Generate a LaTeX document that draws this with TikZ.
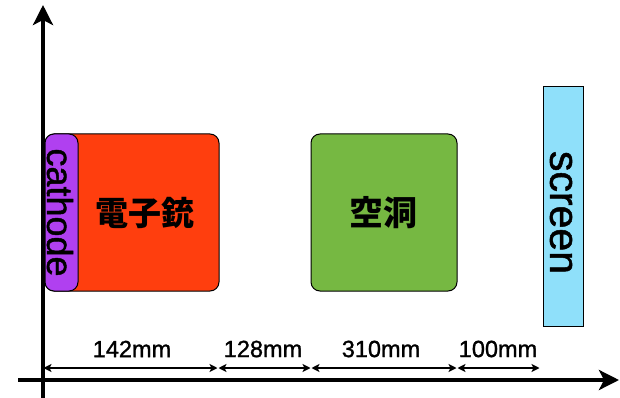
\documentclass[tikz,border=0pt]{standalone}
\usepackage{fontspec}
\setmainfont{Liberation Sans}
\newfontfamily\latb[FakeBold=1.2]{Liberation Sans}
\newfontfamily\jp{Noto Sans CJK JP}
\usetikzlibrary{arrows.meta}
\definecolor{gunred}{RGB}{255,62,14}
\definecolor{cathpurple}{RGB}{176,64,240}
\definecolor{cavgreen}{RGB}{118,184,66}
\definecolor{scrblue}{RGB}{143,224,250}
\begin{document}
\begin{tikzpicture}[x=1pt,y=-1pt,
  box/.style={draw=black,line width=1pt,rounded corners=9pt,inner sep=0pt},
  axis/.style={line width=4pt,-{Stealth[length=20pt,width=20pt,inset=5pt]}},
  dim/.style={line width=1.6pt,{Stealth[length=8pt,width=8pt,inset=2pt]}-{Stealth[length=8pt,width=8pt,inset=2pt]},shorten <=0.5pt,shorten >=0.5pt},
  dimlabel/.style={font=\latb\fontsize{23.5}{25}\selectfont,inner sep=0pt}
]
\useasboundingbox (0,0) rectangle (620,398);
% axes
\coordinate (ybot) at (43,398);
\coordinate (ytop) at (43,5);
\coordinate (xl) at (18,380);
\coordinate (xr) at (619,380);
\draw[axis] (ybot) -- (ytop);
\draw[axis] (xl) -- (xr);
% boxes
\node[box,fill=gunred,minimum width=174pt,minimum height=157pt] (gun) at (132,212.5) {};
\node[font=\jp\bfseries\fontsize{33}{36}\selectfont] (gunlabel) at (145,213) {電子銃};
\node[box,fill=cathpurple,minimum width=33pt,minimum height=157pt] (cathode) at (61.5,212.5) {};
\node[rotate=-90,font=\latb\fontsize{36}{40}\selectfont,inner sep=0pt] (cathlabel) at (60,212.5) {cathode};
\node[box,fill=cavgreen,minimum width=146pt,minimum height=157pt] (cavity) at (384,212.5) {};
\node[font=\jp\bfseries\fontsize{34}{36}\selectfont] (cavlabel) at (383,213) {空洞};
\node[draw=black,line width=1pt,fill=scrblue,minimum width=40pt,minimum height=240pt,inner sep=0pt] (screen) at (563,206.5) {};
\node[rotate=-90,font=\latb\fontsize{41}{44}\selectfont,inner sep=0pt] (scrlabel) at (561,212.5) {screen};
% dimensions
\coordinate (d0) at (43,368);
\coordinate (d1) at (218,368);
\coordinate (d2) at (311,368);
\coordinate (d3) at (457,368);
\coordinate (d4) at (540,368);
\draw[dim] (d0) -- (d1);
\draw[dim] (d1) -- (d2);
\draw[dim] (d2) -- (d3);
\draw[dim] (d3) -- (d4);
\node[dimlabel] (l1) at (132,349) {142mm};
\node[dimlabel] (l2) at (263,349) {128mm};
\node[dimlabel] (l3) at (381,349) {310mm};
\node[dimlabel] (l4) at (498,349) {100mm};
\end{tikzpicture}
\end{document}
